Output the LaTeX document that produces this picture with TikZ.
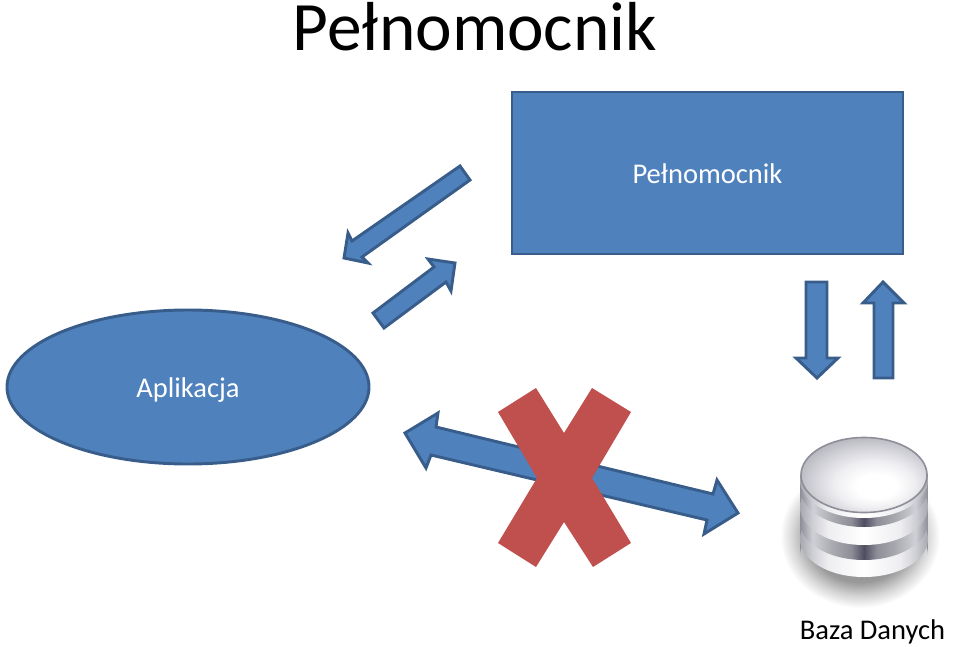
\documentclass[tikz,border=0pt]{standalone}
\usepackage{fontspec}
\setmainfont{Carlito}
\definecolor{dbA}{HTML}{A8A8AF}
\definecolor{dbB}{HTML}{CFCFD6}
\definecolor{dbC}{HTML}{8E8E98}
\definecolor{dbD}{HTML}{4E4E62}
\definecolor{dbE}{HTML}{EEEEF1}
\pgfdeclarehorizontalshading{dbdark}{100bp}{color(0bp)=(dbC);color(25bp)=(dbC);color(30bp)=(dbB);color(38bp)=(dbA);color(45bp)=(dbC);color(50bp)=(dbD);color(55bp)=(dbC);color(62bp)=(dbA);color(70bp)=(dbB);color(75bp)=(dbC);color(100bp)=(dbC)}
\pgfdeclarehorizontalshading{dblight}{100bp}{color(0bp)=(dbA);color(25bp)=(dbA);color(30bp)=(dbB);color(36bp)=(dbE);color(50bp)=(white);color(64bp)=(dbE);color(70bp)=(dbB);color(75bp)=(dbA);color(100bp)=(dbA)}
\pgfdeclareradialshading{dbshadow}{\pgfpoint{0bp}{0bp}}{color(0bp)=(black!45);color(16bp)=(black!40);color(21bp)=(black!16);color(25bp)=(white);color(50bp)=(white)}
\pgfdeclareradialshading{dbplate}{\pgfpoint{6bp}{-9bp}}{color(0bp)=(white);color(8bp)=(white);color(16bp)=(dbE);color(24bp)=(dbB);color(33bp)=(dbA);color(50bp)=(dbC)}
\definecolor{blockfill}{HTML}{4F81BD}
\definecolor{blockline}{HTML}{385D8A}
\definecolor{crossred}{HTML}{C0504D}
\tikzset{
  blockshape/.style={draw=blockline,fill=blockfill,line width=2.2pt,line join=miter},
  blockarrow/.style={draw=blockline,fill=blockfill,line width=2.2pt,line join=miter},
  crossshape/.style={fill=crossred},
  textlabel/.style={inner sep=0pt,anchor=base,font=\fontsize{21.4}{21.4}\selectfont},
  boxlabel/.style={textlabel,text=white},
  titletext/.style={inner sep=0pt,anchor=base,font=\fontsize{52}{52}\selectfont},
  dbdarkdisc/.style={shading=dbdark},
  dblightdisc/.style={shading=dblight}
}
\begin{document}
\begin{tikzpicture}[x=0.75pt,y=-0.75pt]
\useasboundingbox (0,0) rectangle (960,646);
\node[titletext] (title) at (475,50) {Pełnomocnik};
\path[blockshape] (512,92) rectangle (903,254);
\node[boxlabel] (proxy) at (707.5,183) {Pełnomocnik};
\path[blockshape] (188,387) ellipse [x radius=181,y radius=77];
\node[boxlabel] (app) at (188,397) {Aplikacja};
% block arrows
\path[blockarrow] (460,166) -- (470,180) -- (362,257) -- (368,263) -- (344,258) -- (348,233) -- (352,241) -- cycle;
\path[blockarrow] (373,313) -- (384,328) -- (446,282) -- (451,291) -- (455,263) -- (428,259) -- (434,267) -- cycle;
\path[blockarrow] (806,282) -- (827,282) -- (827,358) -- (838,358) -- (817,378) -- (796,358) -- (806,358) -- cycle;
\path[blockarrow] (874,378) -- (893,378) -- (893,303) -- (904,303) -- (883,282) -- (863,303) -- (874,303) -- cycle;
\path[blockarrow] (405,433) -- (438,413) -- (436,427) -- (713,494) -- (717,480) -- (738,513) -- (704,534) -- (707,520) -- (431,455) -- (426,468) -- cycle;
% cross
\path[crossshape] (536,388) -- (564,433) -- (592,388) -- (631,412) -- (592,478) -- (631,543) -- (593,567) -- (564,522) -- (536,567) -- (498,543) -- (537,478) -- (498,412) -- cycle;
% database
\path[shading=dbshadow] (860,536) ellipse [x radius=80,y radius=72];
\path[dbdarkdisc] (800,475) -- (800,555) arc [start angle=180,end angle=360,x radius=64,y radius=38] -- (928,475) -- cycle;
\path[dblightdisc] (864,539) ellipse [x radius=64,y radius=38];
\path[dbdarkdisc] (864,522) ellipse [x radius=64,y radius=38];
\path[dblightdisc] (864,507) ellipse [x radius=64,y radius=38];
\path[dbdarkdisc] (864,489) ellipse [x radius=64,y radius=38];
\path[dblightdisc] (864,480) ellipse [x radius=64,y radius=38];
\path[draw=dbC,line width=1.2pt,shading=dbplate] (864,475) ellipse [x radius=63,y radius=37.5];
\node[textlabel] (db) at (872.5,639) {Baza Danych};
\end{tikzpicture}
\end{document}
